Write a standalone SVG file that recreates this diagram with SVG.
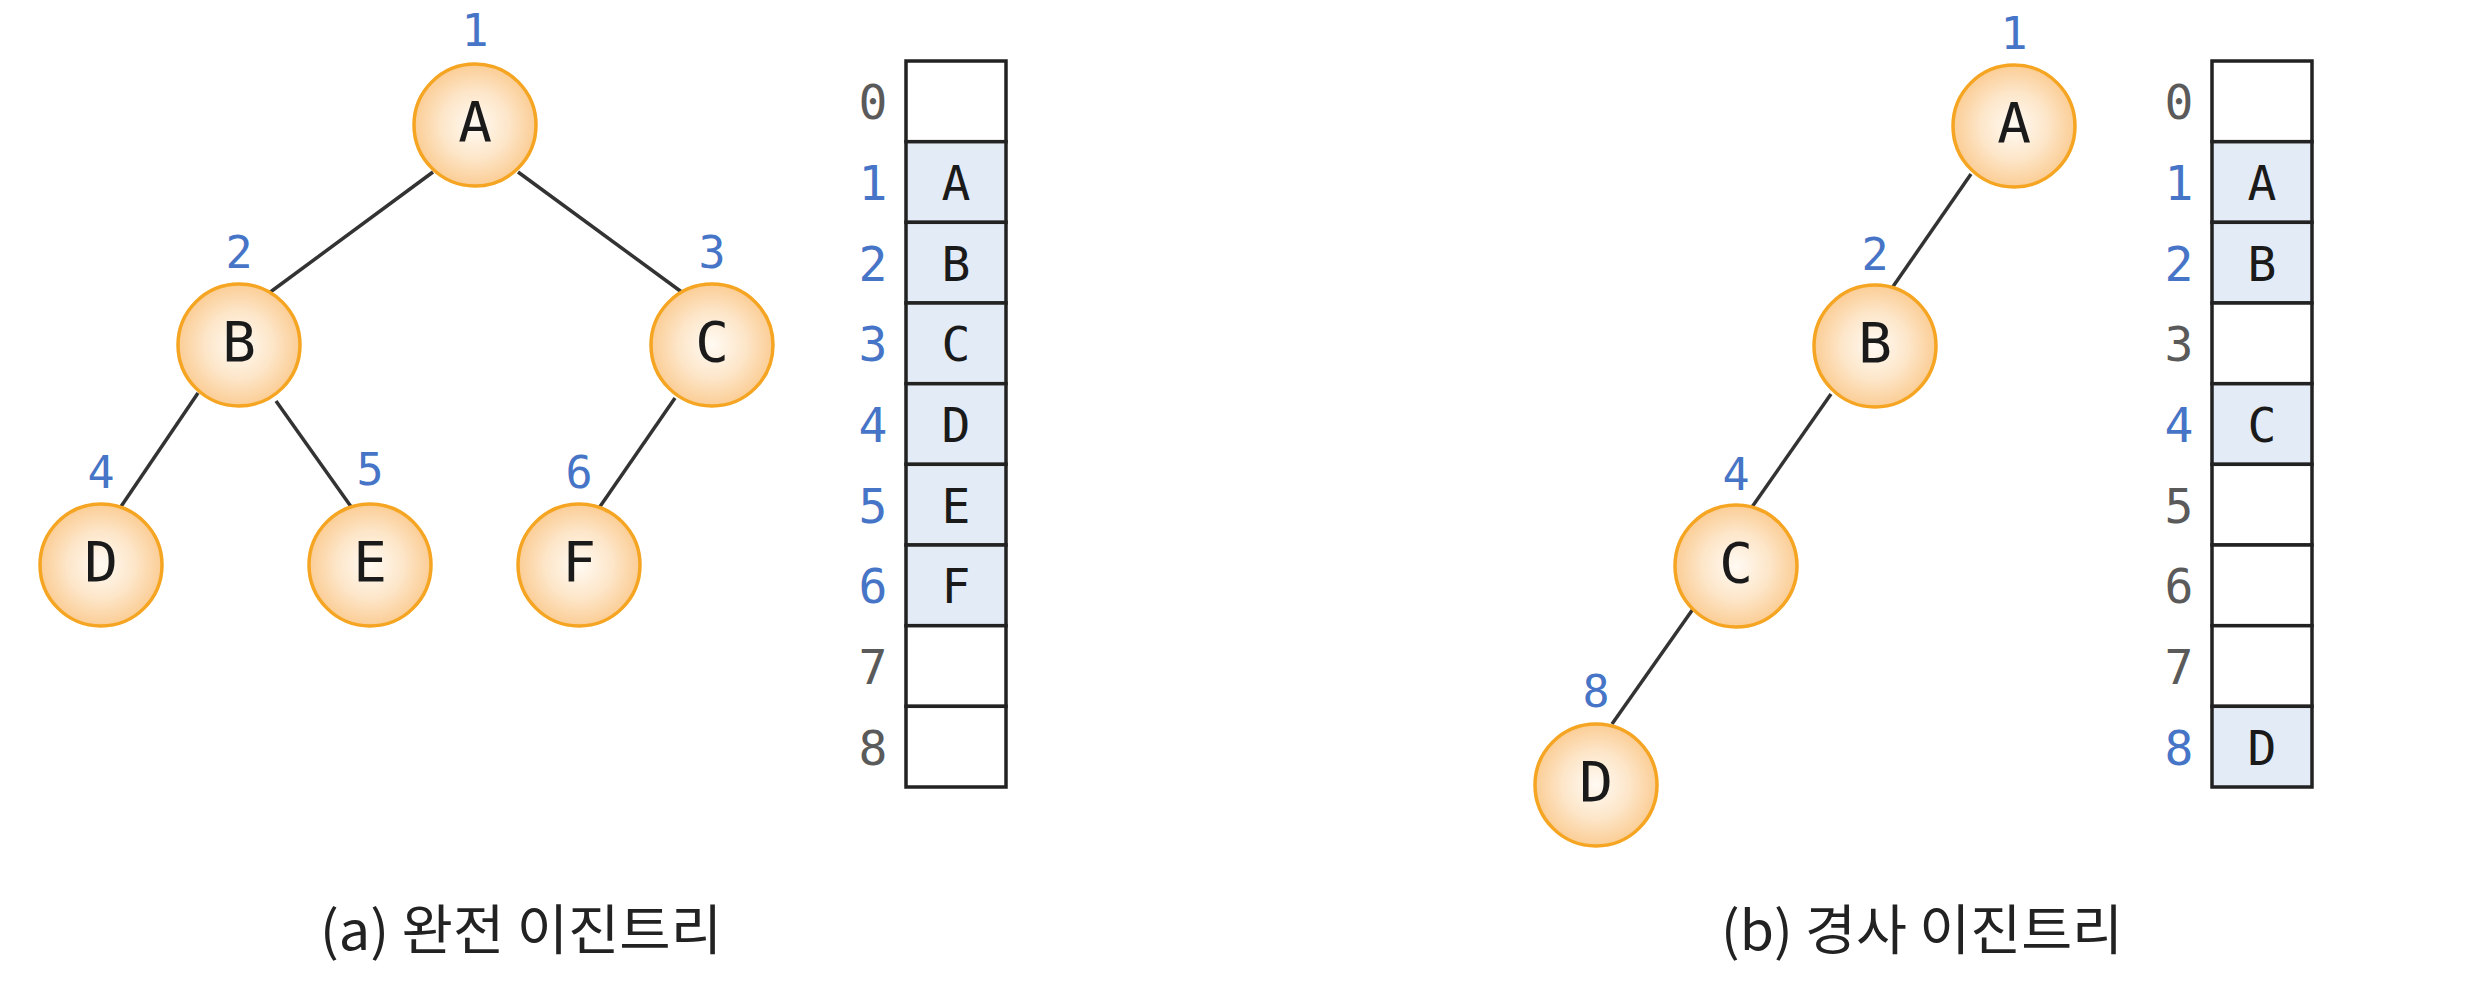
<svg xmlns="http://www.w3.org/2000/svg" width="2481" height="1000" viewBox="0 0 2481 1000">
<defs>
<radialGradient id="nodeFill" cx="50%" cy="50%" r="50%">
<stop offset="0" stop-color="#fffaf3"/>
<stop offset="0.55" stop-color="#fde6c9"/>
<stop offset="1" stop-color="#fbcd95"/>
</radialGradient>
<style>
.node{fill:url(#nodeFill);stroke:#f5a522;stroke-width:3.5}
.nl{font-family:"DejaVu Sans Mono","Liberation Mono",monospace;font-size:56px;fill:#1a1a1a;text-anchor:middle}
.idx{font-family:"DejaVu Sans Mono","Liberation Mono",monospace;font-size:45px;fill:#4674c6;text-anchor:middle}
.edge{stroke:#333;stroke-width:3.5;fill:none}
.cell{fill:#fff;stroke:#222;stroke-width:3.5}
.cell.on{fill:#e3ecf6}
.ct{font-family:"DejaVu Sans Mono","Liberation Mono",monospace;font-size:48px;fill:#1a1a1a;text-anchor:middle}
.ri{font-family:"DejaVu Sans Mono","Liberation Mono",monospace;font-size:48px;text-anchor:middle}
.b{fill:#4674c6}
.g{fill:#5a5a5a}
.cap{font-family:"Noto Sans CJK KR","Noto Sans",sans-serif;font-size:54px;fill:#222;text-anchor:middle}
</style>
</defs>
<rect width="2481" height="1000" fill="#fff"/>

<g id="connectors">
<line class="edge" x1="433" y1="172" x2="269" y2="293"/>
<line class="edge" x1="518" y1="172" x2="683" y2="293"/>
<line class="edge" x1="198" y1="393" x2="120" y2="508"/>
<line class="edge" x1="276" y1="401" x2="352" y2="508"/>
<line class="edge" x1="675" y1="398" x2="599" y2="508"/>
<line class="edge" x1="1971" y1="174" x2="1892" y2="288"/>
<line class="edge" x1="1831" y1="394" x2="1752" y2="507"/>
<line class="edge" x1="1693" y1="609" x2="1612" y2="724"/>
</g>

<g id="left-tree">
<g id="a-A"><circle class="node" cx="475" cy="125" r="61"/><text class="nl" x="475" y="141">A</text><text class="idx" x="475" y="46">1</text></g>
<g id="a-B"><circle class="node" cx="239" cy="345" r="61"/><text class="nl" x="239" y="361">B</text><text class="idx" x="239" y="268">2</text></g>
<g id="a-C"><circle class="node" cx="712" cy="345" r="61"/><text class="nl" x="712" y="361">C</text><text class="idx" x="712" y="268">3</text></g>
<g id="a-D"><circle class="node" cx="101" cy="565" r="61"/><text class="nl" x="101" y="581">D</text><text class="idx" x="101" y="488">4</text></g>
<g id="a-E"><circle class="node" cx="370" cy="565" r="61"/><text class="nl" x="370" y="581">E</text><text class="idx" x="370" y="485">5</text></g>
<g id="a-F"><circle class="node" cx="579" cy="565" r="61"/><text class="nl" x="579" y="581">F</text><text class="idx" x="579" y="488">6</text></g>
</g>

<g id="left-array">
<rect class="cell" x="906" y="61" width="100" height="80.7"/>
<rect class="cell on" x="906" y="141.7" width="100" height="80.7"/>
<rect class="cell on" x="906" y="222.3" width="100" height="80.7"/>
<rect class="cell on" x="906" y="303" width="100" height="80.7"/>
<rect class="cell on" x="906" y="383.7" width="100" height="80.7"/>
<rect class="cell on" x="906" y="464.3" width="100" height="80.7"/>
<rect class="cell on" x="906" y="545" width="100" height="80.7"/>
<rect class="cell" x="906" y="625.7" width="100" height="80.7"/>
<rect class="cell" x="906" y="706.3" width="100" height="80.7"/>
<text class="ct" x="956" y="200">A</text>
<text class="ct" x="956" y="281">B</text>
<text class="ct" x="956" y="361">C</text>
<text class="ct" x="956" y="442">D</text>
<text class="ct" x="956" y="523">E</text>
<text class="ct" x="956" y="603">F</text>
<text class="ri g" x="873" y="119">0</text>
<text class="ri b" x="873" y="200">1</text>
<text class="ri b" x="873" y="281">2</text>
<text class="ri b" x="873" y="361">3</text>
<text class="ri b" x="873" y="442">4</text>
<text class="ri b" x="873" y="523">5</text>
<text class="ri b" x="873" y="603">6</text>
<text class="ri g" x="873" y="684">7</text>
<text class="ri g" x="873" y="765">8</text>
</g>

<g id="right-tree">
<g id="b-A"><circle class="node" cx="2014" cy="126" r="61"/><text class="nl" x="2014" y="142">A</text><text class="idx" x="2014" y="49">1</text></g>
<g id="b-B"><circle class="node" cx="1875" cy="346" r="61"/><text class="nl" x="1875" y="362">B</text><text class="idx" x="1875" y="270">2</text></g>
<g id="b-C"><circle class="node" cx="1736" cy="566" r="61"/><text class="nl" x="1736" y="582">C</text><text class="idx" x="1736" y="490">4</text></g>
<g id="b-D"><circle class="node" cx="1596" cy="785" r="61"/><text class="nl" x="1596" y="801">D</text><text class="idx" x="1596" y="707">8</text></g>
</g>

<g id="right-array">
<rect class="cell" x="2212" y="61" width="100" height="80.7"/>
<rect class="cell on" x="2212" y="141.7" width="100" height="80.7"/>
<rect class="cell on" x="2212" y="222.3" width="100" height="80.7"/>
<rect class="cell" x="2212" y="303" width="100" height="80.7"/>
<rect class="cell on" x="2212" y="383.7" width="100" height="80.7"/>
<rect class="cell" x="2212" y="464.3" width="100" height="80.7"/>
<rect class="cell" x="2212" y="545" width="100" height="80.7"/>
<rect class="cell" x="2212" y="625.7" width="100" height="80.7"/>
<rect class="cell on" x="2212" y="706.3" width="100" height="80.7"/>
<text class="ct" x="2262" y="200">A</text>
<text class="ct" x="2262" y="281">B</text>
<text class="ct" x="2262" y="442">C</text>
<text class="ct" x="2262" y="765">D</text>
<text class="ri g" x="2179" y="119">0</text>
<text class="ri b" x="2179" y="200">1</text>
<text class="ri b" x="2179" y="281">2</text>
<text class="ri g" x="2179" y="361">3</text>
<text class="ri b" x="2179" y="442">4</text>
<text class="ri g" x="2179" y="523">5</text>
<text class="ri g" x="2179" y="603">6</text>
<text class="ri g" x="2179" y="684">7</text>
<text class="ri b" x="2179" y="765">8</text>
</g>

<g id="captions">
<text class="cap" x="521" y="950" textLength="402" lengthAdjust="spacingAndGlyphs">(a) 완전 이진트리</text>
<text class="cap" x="1922" y="950" textLength="402" lengthAdjust="spacingAndGlyphs">(b) 경사 이진트리</text>
</g>
</svg>
